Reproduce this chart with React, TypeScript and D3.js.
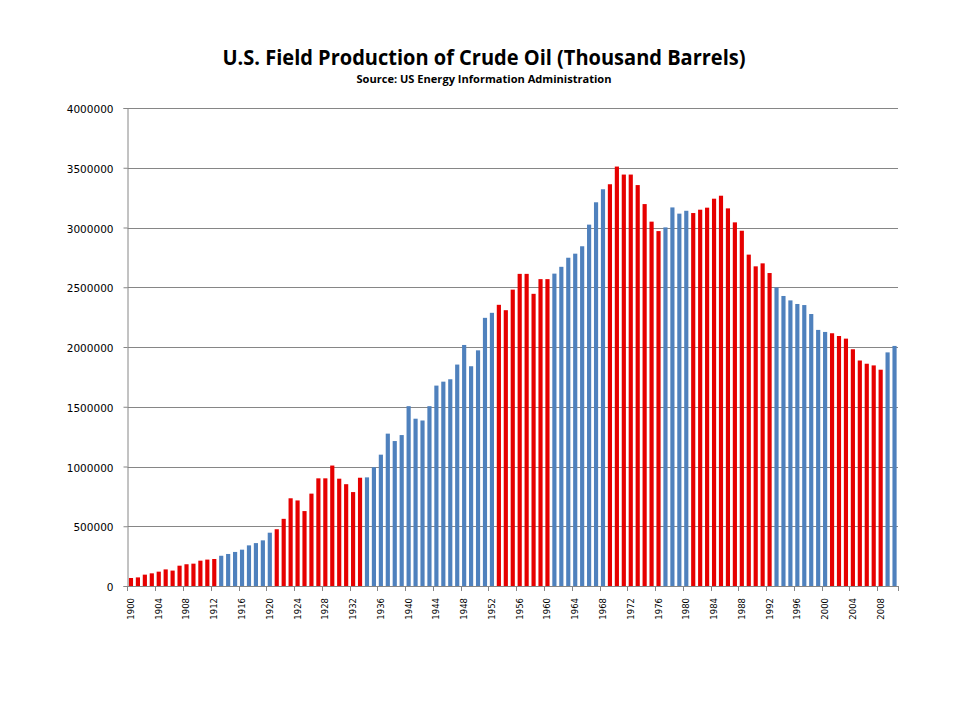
import React, { useEffect, useRef } from 'react';
import * as d3 from 'd3';

// U.S. field production of crude oil, thousand barrels, 1900-2010
const years: number[] = d3.range(1900, 2011);

const production: number[] = [
  67000, 72000, 95000, 106000, 120000, 139000, 129000, 170000, 182000, 187000,
  212000, 221000, 226000, 253000, 268000, 285000, 304000, 340000, 359000, 382000,
  446000, 475000, 562000, 734000, 716000, 627000, 773000, 901000, 901000, 1008000,
  898000, 852000, 786000, 906000, 909000, 994000, 1099000, 1275000, 1213000, 1263000,
  1505000, 1400000, 1385000, 1505000, 1677000, 1710000, 1730000, 1853000, 2017000, 1839000,
  1972000, 2244000, 2286000, 2353000, 2308000, 2480000, 2612000, 2612000, 2445000, 2568000,
  2568000, 2614000, 2671000, 2747000, 2781000, 2843000, 3024000, 3211000, 3320000, 3362000,
  3510000, 3443000, 3443000, 3355000, 3196000, 3049000, 2970000, 3001000, 3168000, 3116000,
  3140000, 3121000, 3149000, 3166000, 3241000, 3266000, 3160000, 3043000, 2973000, 2773000,
  2675000, 2700000, 2619000, 2498000, 2427000, 2390000, 2360000, 2351000, 2276000, 2143000,
  2126000, 2115000, 2092000, 2070000, 1981000, 1887000, 1860000, 1846000, 1810000, 1955000,
  2009000,
];

// spans of years drawn in red (Republican administrations)
const redSpans: [number, number][] = [
  [1900, 1912],
  [1921, 1933],
  [1953, 1960],
  [1969, 1976],
  [1981, 1992],
  [2001, 2008],
];

const yTicks = [0, 500000, 1000000, 1500000, 2000000, 2500000, 3000000, 3500000, 4000000];
const xLabels: number[] = years.filter(y => (y - 1900) % 4 === 0);

const title = 'U.S. Field Production of Crude Oil (Thousand Barrels)';
const subtitle = 'Source: US Energy Information Administration';

const RED = '#e60000';
const BLUE = '#4f81bd';
const GRID = '#868686';

const ProductionChart: React.FC = () => {
  const svgRef = useRef<SVGSVGElement>(null);

  useEffect(() => {
    if (!svgRef.current) return;
    const svg = d3.select(svgRef.current);
    svg.selectAll('*').remove();

    const left = 127.5;
    const right = 898;
    const top = 108;
    const bottom = 586;

    const x = d3.scaleBand<number>()
      .domain(years)
      .range([left, right])
      .paddingInner(0.4)
      .paddingOuter(0.2);

    const y = d3.scaleLinear()
      .domain([0, 4000000])
      .range([bottom, top]);

    const isRed = (yr: number) => redSpans.some(([a, b]) => yr >= a && yr <= b);

    // title
    svg.append('text')
      .attr('x', 484)
      .attr('y', 65)
      .attr('text-anchor', 'middle')
      .attr('font-family', '"Open Sans", sans-serif')
      .attr('font-weight', 'bold')
      .attr('font-size', 21)
      .attr('textLength', 523)
      .attr('lengthAdjust', 'spacingAndGlyphs')
      .attr('fill', '#000')
      .text(title);

    svg.append('text')
      .attr('x', 484)
      .attr('y', 83)
      .attr('text-anchor', 'middle')
      .attr('font-family', '"Open Sans", sans-serif')
      .attr('font-weight', 'bold')
      .attr('font-size', 10)
      .attr('textLength', 255)
      .attr('lengthAdjust', 'spacingAndGlyphs')
      .attr('fill', '#000')
      .text(subtitle);

    // gridlines
    svg.append('g')
      .selectAll('line')
      .data(yTicks.filter(t => t > 0))
      .enter()
      .append('line')
      .attr('x1', left)
      .attr('x2', right)
      .attr('y1', d => Math.round(y(d)) + 0.5)
      .attr('y2', d => Math.round(y(d)) + 0.5)
      .attr('stroke', GRID)
      .attr('stroke-width', 1);

    // bars
    svg.append('g')
      .selectAll('rect')
      .data(years)
      .enter()
      .append('rect')
      .attr('x', d => x(d)!)
      .attr('width', x.bandwidth())
      .attr('y', (d, i) => y(production[i]))
      .attr('height', (d, i) => bottom - y(production[i]))
      .attr('fill', d => (isRed(d) ? RED : BLUE));

    // y axis
    const yAxis = svg.append('g')
      .attr('transform', `translate(${left},0)`)
      .call(d3.axisLeft(y).tickValues(yTicks).tickSize(4).tickPadding(10).tickFormat(d3.format('d')));
    yAxis.select('.domain').attr('stroke', GRID);
    yAxis.selectAll('.tick line').attr('stroke', GRID);
    yAxis.selectAll('.tick text')
      .attr('font-family', '"DejaVu Sans", Verdana, sans-serif')
      .attr('font-size', 10.5)
      .attr('dy', '0.45em')
      .attr('fill', '#000');

    // x axis
    const step = x.step();
    const gap = (step - x.bandwidth()) / 2;
    const xAxis = svg.append('g');
    xAxis.append('line')
      .attr('x1', left)
      .attr('x2', right)
      .attr('y1', bottom + 0.5)
      .attr('y2', bottom + 0.5)
      .attr('stroke', GRID);

    const tickPos = xLabels.map(yr => x(yr)! - gap).concat([right]);
    xAxis.selectAll('line.tick')
      .data(tickPos)
      .enter()
      .append('line')
      .attr('class', 'tick')
      .attr('x1', d => Math.round(d) + 0.5)
      .attr('x2', d => Math.round(d) + 0.5)
      .attr('y1', bottom)
      .attr('y2', bottom + 5)
      .attr('stroke', GRID);

    xAxis.selectAll('text')
      .data(xLabels)
      .enter()
      .append('text')
      .attr('transform', d => `translate(${x(d)! + x.bandwidth() / 2},598) rotate(-90)`)
      .attr('text-anchor', 'end')
      .attr('dy', '0.35em')
      .attr('font-family', '"DejaVu Sans", Verdana, sans-serif')
      .attr('font-size', 8.5)
      .attr('fill', '#000')
      .text(d => String(d));
  }, []);

  return (
    <svg
      ref={svgRef}
      width={960}
      height={720}
      style={{ position: 'absolute', left: 0, top: 0, background: '#fff' }}
    />
  );
};

export default function App() {
  return <ProductionChart />;
}
